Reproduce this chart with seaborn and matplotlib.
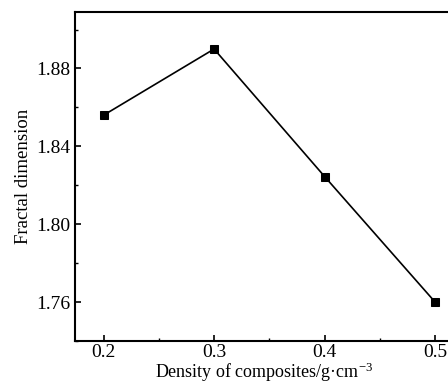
import matplotlib
matplotlib.use("Agg")
import matplotlib.pyplot as plt
from matplotlib.ticker import MultipleLocator
import seaborn as sns
import pandas as pd

density = [0.2, 0.3, 0.4, 0.5]
fractal_dimension = [1.856, 1.890, 1.8245, 1.760]
x_ticks = [0.2, 0.3, 0.4, 0.5]
x_tick_labels = ["0.2", "0.3", "0.4", "0.5"]
y_ticks = [1.76, 1.80, 1.84, 1.88]
y_tick_labels = ["1.76", "1.80", "1.84", "1.88"]

sns.set_theme(style="ticks")
plt.rcParams['font.family'] = ['Liberation Serif', 'DejaVu Serif']
plt.rcParams['mathtext.fontset'] = 'stix'
plt.rcParams['text.color'] = 'black'
plt.rcParams['axes.labelcolor'] = 'black'

df = pd.DataFrame({"density": density, "fd": fractal_dimension})

fig = plt.figure(figsize=(4.48, 3.88), dpi=100)
ax = fig.add_axes([0.167, 0.121, 0.845, 0.848])
sns.lineplot(data=df, x="density", y="fd", ax=ax, color="black", linewidth=1.2,
             marker="s", markersize=6, markeredgecolor="black", markerfacecolor="black")

ax.set_xlim(0.174, 0.5165)
ax.set_ylim(1.740, 1.909)
ax.set_xticks(x_ticks)
ax.set_xticklabels(x_tick_labels)
ax.set_yticks(y_ticks)
ax.set_yticklabels(y_tick_labels)
ax.xaxis.set_minor_locator(MultipleLocator(0.05))
ax.yaxis.set_minor_locator(MultipleLocator(0.02))
ax.tick_params(which="both", direction="in", top=False, right=False,
               labelsize=14, colors="black")
ax.tick_params(axis="x", which="major", pad=2)
ax.tick_params(which="major", length=4, width=1.2)
ax.tick_params(which="minor", length=2.5, width=1.0)
for s in ax.spines.values():
    s.set_linewidth(1.5)
    s.set_color("black")

ax.set_xlabel("Density of composites/g·cm$^{\\mathregular{-3}}$", fontsize=13,
              labelpad=0, color="black")
ax.set_ylabel("Fractal dimension", fontsize=13.5, labelpad=3, color="black")

fig.savefig("out.png", dpi=100)
